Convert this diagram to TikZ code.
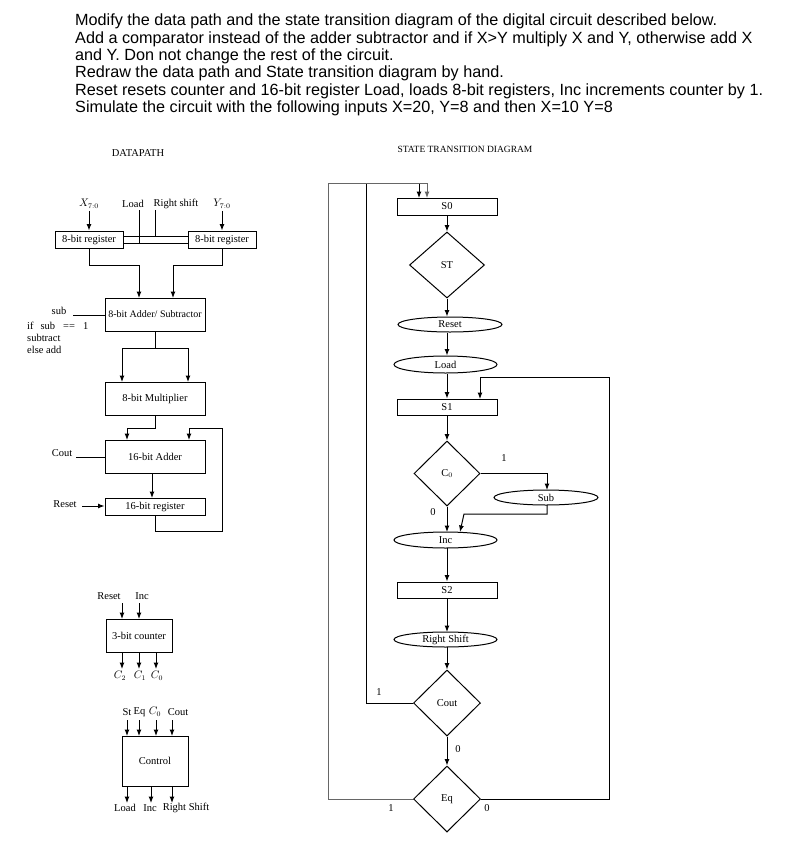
\documentclass[tikz,border=0pt]{standalone}
\usepackage{fontspec}
\setmainfont{Liberation Serif}
\newfontfamily\hdrfont{Liberation Sans}
\usetikzlibrary{shapes.geometric,arrows.meta}
\newcommand{\dfs}{\fontsize{10.5}{12}\selectfont}
\newcommand{\hfs}{\hdrfont\fontsize{16.2}{17}\selectfont}
\tikzset{
  ln/.style={line width=1pt},
  arr/.style={line width=1pt, -{Latex[length=6.5pt,width=5pt]}},
  box/.style={draw, line width=1pt, inner sep=0pt, font=\dfs},
  dia/.style={draw, diamond, line width=1pt, inner sep=0pt, font=\dfs},
  ell/.style={draw, ellipse, line width=1pt, inner sep=0pt, font=\dfs},
  lbl/.style={inner sep=0pt, font=\dfs},
  hdr/.style={inner sep=0pt, anchor=west, font=\hfs},
}
\begin{document}
\begin{tikzpicture}[x=1pt,y=-1pt]
\useasboundingbox (0,0) rectangle (812,847);
\fill[white] (0,0) rectangle (812,847);

% header
\node[hdr] (h1) at (75,21) {Modify the data path and the state transition diagram of the digital circuit described below.};
\node[hdr] (h2) at (75,39) {Add a comparator instead of the adder subtractor and if X>Y multiply X and Y, otherwise add X};
\node[hdr] (h3) at (75,56) {and Y. Don not change the rest of the circuit.};
\node[hdr] (h4) at (75,73) {Redraw the data path and State transition diagram by hand.};
\node[hdr] (h5) at (75,91) {Reset resets counter and 16-bit register Load, loads 8-bit registers, Inc increments counter by 1.};
\node[hdr] (h6) at (75,108) {Simulate the circuit with the following inputs X=20, Y=8 and then X=10 Y=8};

\node[lbl] (dptitle) at (138,153) {DATAPATH};
\node[lbl, font=\fontsize{9.5}{11}\selectfont] (sttitle) at (465,149) {STATE TRANSITION DIAGRAM};

% ---------------- datapath ----------------
\node[box, minimum width=68pt, minimum height=17pt] (regL) at (89,239.5) {8-bit register};
\node[box, minimum width=68pt, minimum height=17pt] (regR) at (222,239.5) {8-bit register};
\node[lbl] (xin) at (89,204) {$X_{7:0}$};
\node[lbl] (yin) at (222,204) {$Y_{7:0}$};
\node[lbl] (ldl) at (133,204) {Load};
\node[lbl] (rsl) at (176,204) {Right shift};
\draw[arr] (xin.south) ++(0,2) -- (xin.south |- regL.north);
\draw[arr] (yin.south) ++(0,2) -- (yin.south |- regR.north);
\draw[ln] (regL.east |- 0,236) -- (regR.west |- 0,236);
\draw[ln] (regL.east |- 0,243) -- (regR.west |- 0,243);
\coordinate (ldtop) at (139,210);
\coordinate (rstop) at (155,210);
\draw[ln] (ldtop) -- (139,243);
\draw[ln] (rstop) -- (155,236);

\node[box, minimum width=100pt, minimum height=33pt, font=\fontsize{10}{12}\selectfont] (addsub) at (155,314.5) {8-bit Adder/ Subtractor};
\draw[arr] (regL.south) -- (89,265) -- (139,265) -- (139,298);
\draw[arr] (regR.south) -- (222,265) -- (173,265) -- (173,298);
\node[lbl] (subl) at (59,311) {sub};
\coordinate (subend) at (73,315);
\draw[ln] (subend) -- (addsub.west |- subend);
\node[lbl, anchor=west] (if1) at (27,325.5) {if\hspace{7pt}sub\hspace{8pt}==\hspace{8pt}1};
\node[lbl, anchor=west] (if2) at (27,337.5) {subtract};
\node[lbl, anchor=west] (if3) at (27,350) {else add};

\node[box, minimum width=100pt, minimum height=33pt] (mult) at (155,398.5) {8-bit Multiplier};
\draw[ln] (addsub.south) -- (155,348);
\draw[ln] (122,348) -- (188,348);
\draw[arr] (122,348) -- (122,382);
\draw[arr] (188,348) -- (188,382);

\node[box, minimum width=100pt, minimum height=33pt] (add16) at (155,456.5) {16-bit Adder};
\node[box, minimum width=100pt, minimum height=17pt] (reg16) at (155,506.5) {16-bit register};
\draw[arr] (mult.south) -- (155,428) -- (127,428) -- (127,440);
\draw[arr] (reg16.south) -- (155,531) -- (222,531) -- (222,428) -- (189,428) -- (189,440);
\draw[arr] (152,473) -- (152,498);
\node[lbl] (coutl) at (62,453) {Cout};
\coordinate (coutend) at (76,457);
\draw[ln] (coutend) -- (add16.west |- coutend);
\node[lbl] (resetl) at (65,504) {Reset};
\coordinate (resetend) at (82,506);
\draw[arr] (resetend) -- (reg16.west |- resetend);

% counter
\node[box, minimum width=66pt, minimum height=33pt] (cnt) at (139,635.5) {3-bit counter};
\node[lbl] (cres) at (109,596) {Reset};
\node[lbl] (cinc) at (142,596) {Inc};
\draw[arr] (122,603) -- (122,619);
\draw[arr] (139,603) -- (139,619);
\draw[arr] (122,652) -- (122,669);
\draw[arr] (139,652) -- (139,669);
\draw[arr] (156,652) -- (156,669);
\node[lbl] (c2) at (120,676) {$C_2$};
\node[lbl] (c1) at (140,676) {$C_1$};
\node[lbl] (c0) at (157,676) {$C_0$};

% control
\node[box, minimum width=66pt, minimum height=50pt] (ctl) at (155,761) {Control};
\node[lbl] (ist) at (127,712) {St};
\node[lbl] (ieq) at (139.5,712) {Eq};
\node[lbl] (ic0) at (155,712) {$C_0$};
\node[lbl] (icout) at (178,712) {Cout};
\draw[arr] (127,720) -- (127,736);
\draw[arr] (139,720) -- (139,736);
\draw[arr] (156,720) -- (156,736);
\draw[arr] (172,720) -- (172,736);
\draw[arr] (127,786) -- (127,803);
\draw[arr] (151,786) -- (151,803);
\draw[arr] (172,786) -- (172,803);
\node[lbl] (oload) at (125,808) {Load};
\node[lbl] (oinc) at (150,808) {Inc};
\node[lbl] (ors) at (186,808) {Right Shift};

% ---------------- state diagram ----------------
\node[box, minimum width=100pt, minimum height=17pt] (s0) at (447,206.5) {S0};
\node[dia, minimum width=75pt, minimum height=66pt] (st) at (447,265) {ST};
\node[ell, minimum width=104pt, minimum height=15pt] (reset) at (450,324.5) {Reset};
\node[ell, minimum width=103pt, minimum height=17pt] (load) at (445.5,364.5) {Load};
\node[box, minimum width=100pt, minimum height=16pt] (s1) at (447,407) {S1};
\node[dia, minimum width=66pt, minimum height=65pt] (c0d) at (447,473.5) {C$_0$};
\node[ell, minimum width=104pt, minimum height=15pt] (sub) at (546,497.5) {Sub};
\node[ell, minimum width=103pt, minimum height=16pt] (inc) at (445.5,540) {Inc};
\node[box, minimum width=100pt, minimum height=16pt] (s2) at (447,590) {S2};
\node[ell, minimum width=103pt, minimum height=15pt] (rsh) at (445.5,639.5) {Right Shift};
\node[dia, minimum width=67pt, minimum height=66pt] (coutd) at (447,703) {Cout};
\node[dia, minimum width=67pt, minimum height=66pt] (eqd) at (447,799) {Eq};

\draw[arr] (s0.south) -- (st.north);
\draw[arr] (st.south) -- (st.south |- reset.north);
\draw[arr] (st.south |- reset.south) -- (st.south |- load.north);
\draw[arr] (st.south |- load.south) -- (s1.north);
\draw[arr] (s1.south) -- (c0d.north);
\draw[arr] (c0d.east) -- (547,473.5) -- (547,490);
\draw[arr] (547,505) -- (547,514) -- (464,514) -- (460,532);
\draw[arr] (c0d.south) -- (447,532);
\draw[arr] (447,548) -- (s2.north);
\draw[arr] (s2.south) -- (447,632);
\draw[arr] (447,647) -- (coutd.north);
\draw[arr] (coutd.south) -- (eqd.north);
\draw[arr] (coutd.west) -- (366,703) -- (366,183) -- (419,183) -- (419,198);
\draw[arr, black!60] (eqd.west) -- (328,799) -- (328,183) -- (427,183) -- (427,198);
\draw[arr] (eqd.east) -- (609,799) -- (609,377) -- (480,377) -- (480,399);

\node[lbl] (l1a) at (504,458) {1};
\node[lbl] (l0a) at (433,512) {0};
\node[lbl] (l1b) at (379,692) {1};
\node[lbl] (l0b) at (458,749) {0};
\node[lbl] (l1c) at (391,808) {1};
\node[lbl] (l0c) at (487,808) {0};
\end{tikzpicture}
\end{document}
